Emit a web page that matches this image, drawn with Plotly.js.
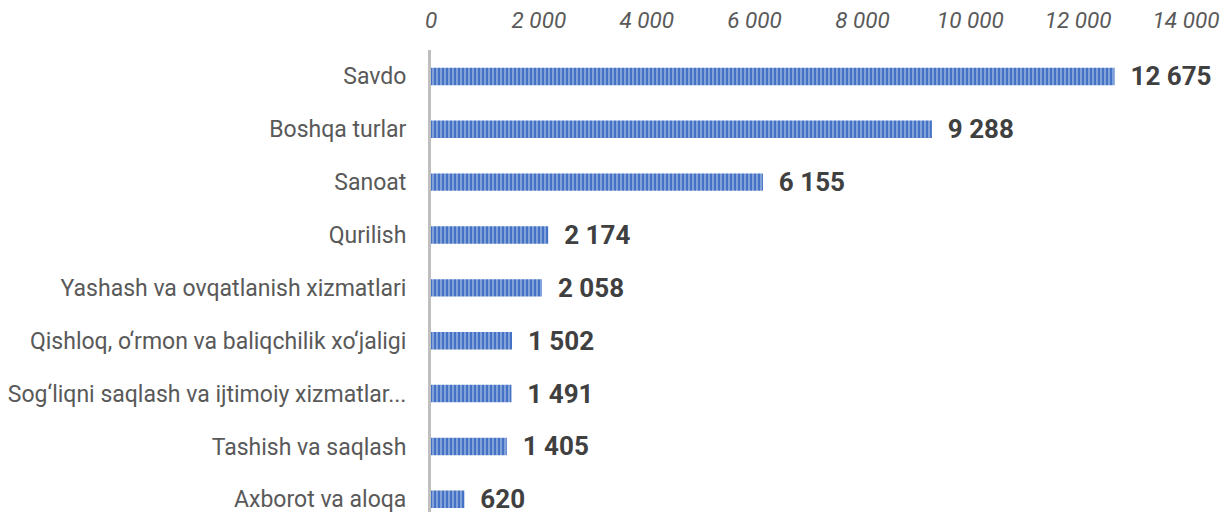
<!DOCTYPE html>
<html><head><meta charset="utf-8">
<script src="https://cdn.plot.ly/plotly-3.0.1.min.js"></script>
<style>html,body{margin:0;padding:0;background:#fff;}#chart{width:1229px;height:512px;}</style>
</head><body><div id="chart"></div>
<script>
const categories = [
  "Savdo",
  "Boshqa turlar",
  "Sanoat",
  "Qurilish",
  "Yashash va ovqatlanish xizmatlari",
  "Qishloq, o‘rmon va baliqchilik xo‘jaligi",
  "Sog‘liqni saqlash va ijtimoiy xizmatlar...",
  "Tashish va saqlash",
  "Axborot va aloqa"
];
const values = [12675, 9288, 6155, 2174, 2058, 1502, 1491, 1405, 620];
const tickVals = [0, 2000, 4000, 6000, 8000, 10000, 12000, 14000];

const trace = {
  type: 'bar',
  orientation: 'h',
  y: categories,
  x: values,
  width: 0.33,
  marker: {
    color: '#4472C4',
    line: {width: 0},
    pattern: {shape: '|', fgcolor: '#9DB6E4', bgcolor: '#4472C4', size: 4, solidity: 0.35, fillmode: 'replace'}
  },
  texttemplate: '  %{x:,}',
  textposition: 'outside',
  constraintext: 'none',
  cliponaxis: false,
  textfont: {family: 'Roboto, Arial, sans-serif', size: 26, color: '#404040', weight: 'bold'},
  hoverinfo: 'none'
};

const layout = {
  width: 1229, height: 512,
  margin: {l: 431, r: 43, t: 50, b: 0},
  separators: '. ',
  paper_bgcolor: '#fff', plot_bgcolor: '#fff',
  showlegend: false,
  bargap: 0.6,
  xaxis: {
    side: 'top', range: [0, 14000], tickvals: tickVals,
    tickformat: ',', showgrid: false, zeroline: false, showline: false,
    ticks: 'outside', ticklen: 12, tickcolor: 'rgba(0,0,0,0)',
    tickfont: {family: 'Roboto, Arial, sans-serif', size: 22.5, color: '#595959', style: 'italic'}
  },
  yaxis: {
    type: 'category', range: [8.24, -0.5],
    showgrid: false, zeroline: false,
    showline: true, linecolor: '#BFBFBF', linewidth: 3,
    ticks: 'outside', ticklen: 17, tickcolor: 'rgba(0,0,0,0)',
    tickfont: {family: 'Roboto, Arial, sans-serif', size: 23, color: '#595959'}
  }
};

Plotly.newPlot('chart', [trace], layout, {staticPlot: true, displayModeBar: false});
</script></body></html>
